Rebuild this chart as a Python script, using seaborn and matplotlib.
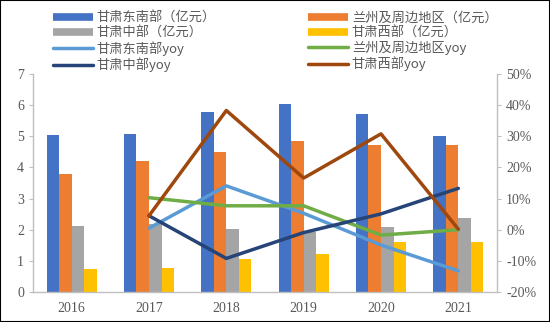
import matplotlib
matplotlib.use("Agg")
import matplotlib.pyplot as plt
from matplotlib.lines import Line2D
from matplotlib.patches import Rectangle
from matplotlib.ticker import FuncFormatter
import seaborn as sns
import pandas as pd

years = ["2016", "2017", "2018", "2019", "2020", "2021"]
bar_names = ["甘肃东南部（亿元）", "兰州及周边地区（亿元）", "甘肃中部（亿元）", "甘肃西部（亿元）"]
southeast = [5.05, 5.08, 5.77, 6.03, 5.71, 5.00]
lanzhou = [3.80, 4.20, 4.50, 4.84, 4.73, 4.73]
central = [2.13, 2.20, 2.03, 1.93, 2.09, 2.37]
west = [0.75, 0.78, 1.07, 1.23, 1.61, 1.61]

yoy_years = ["2017", "2018", "2019", "2020", "2021"]
line_names = ["甘肃东南部yoy", "兰州及周边地区yoy", "甘肃中部yoy", "甘肃西部yoy"]
southeast_yoy = [0.5, 14.1, 5.3, -4.9, -13.2]
lanzhou_yoy = [10.3, 7.7, 7.7, -1.7, 0.0]
central_yoy = [4.5, -9.2, -0.9, 5.1, 13.3]
west_yoy = [4.5, 38.3, 16.6, 30.8, 0.2]

bar_colors = ["#4472C4", "#ED7D31", "#A5A5A5", "#FFC000"]
line_colors = ["#5B9BD5", "#70AD47", "#264478", "#9E480E"]

sns.set_style("white")
plt.rcParams["font.family"] = ["Liberation Serif", "Noto Sans CJK SC", "DejaVu Sans"]
txt = "#595959"

bar_df = pd.DataFrame({
    "year": years * 4,
    "value": southeast + lanzhou + central + west,
    "series": sum([[n] * len(years) for n in bar_names], []),
})
yoy_x = [years.index(y) for y in yoy_years]
line_df = pd.DataFrame({
    "x": yoy_x * 4,
    "value": southeast_yoy + lanzhou_yoy + central_yoy + west_yoy,
    "series": sum([[n] * len(yoy_years) for n in line_names], []),
})

fig = plt.figure(figsize=(5.5, 3.22), dpi=100)
ax = fig.add_axes([0.06, 0.093, 0.8436, 0.677])
sns.barplot(data=bar_df, x="year", y="value", hue="series", order=years,
            hue_order=bar_names, palette=bar_colors, width=0.65, gap=0,
            saturation=1, legend=False, ax=ax, edgecolor="none")
ax.set_ylim(0, 7)
ax.set_xlim(-0.5, 5.5)
ax.set_xlabel("")
ax.set_ylabel("")
ax.set_yticks(range(0, 8))

ax2 = ax.twinx()
sns.lineplot(data=line_df, x="x", y="value", hue="series", hue_order=line_names,
             palette=line_colors, linewidth=2.5, legend=False, ax=ax2)
ax2.set_ylim(-20, 50)
ax2.set_yticks(range(-20, 51, 10))
ax2.yaxis.set_major_formatter(FuncFormatter(lambda v, p: f"{int(v)}%"))
ax2.set_ylabel("")
ax.set_xlim(-0.5, 5.5)

for a in (ax, ax2):
    for s in a.spines.values():
        s.set_visible(False)
    a.tick_params(colors=txt, labelsize=10, length=3, width=0.8)
    a.grid(False)
ax.spines["left"].set_visible(True)
ax.spines["bottom"].set_visible(True)
ax2.spines["right"].set_visible(True)
for s in (ax.spines["left"], ax.spines["bottom"], ax2.spines["right"]):
    s.set_color("#BFBFBF")
    s.set_linewidth(1)
ax.tick_params(axis="x", length=0, pad=7)
ax.tick_params(axis="y", colors="#BFBFBF", labelcolor=txt)
ax2.tick_params(axis="y", colors="#BFBFBF", labelcolor=txt)

all_h = [Line2D([], [], color=c, lw=5.5, solid_capstyle="butt") for c in bar_colors] + \
        [Line2D([], [], color=c, lw=2.5, solid_capstyle="round") for c in line_colors]
all_l = bar_names + line_names
col1 = [0, 2, 4, 6]
col2 = [1, 3, 5, 7]
handles = [all_h[i] for i in col1 + col2]
labels = [all_l[i] for i in col1 + col2]
leg = fig.legend(handles, labels, ncol=2, loc="upper left", bbox_to_anchor=(0.075, 1.0),
                 frameon=False, handlelength=3.0, handletextpad=0.3,
                 columnspacing=7.0, labelspacing=0.12,
                 prop={"family": ["Noto Sans CJK SC", "DejaVu Sans"], "size": 9.5})
for t in leg.get_texts():
    t.set_color(txt)

fig.patches.append(Rectangle((0, 0), 1, 1, transform=fig.transFigure,
                             fill=False, edgecolor="black", linewidth=1.5))
fig.savefig("out.png", dpi=100)
